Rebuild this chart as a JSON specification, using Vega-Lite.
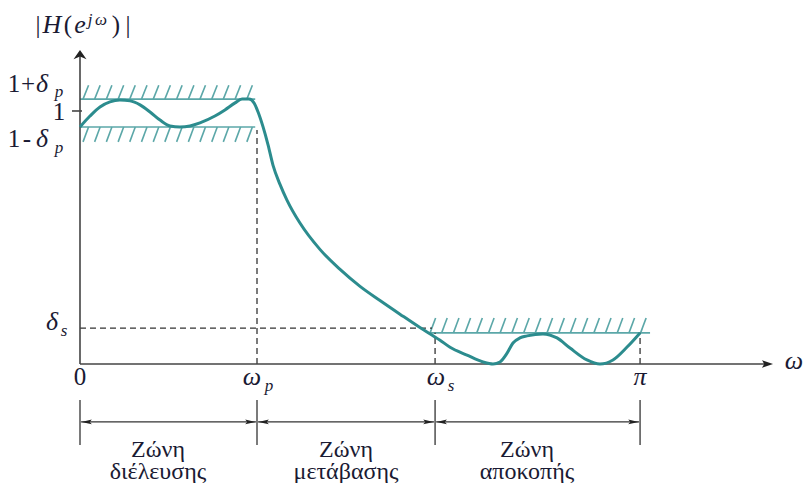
{
  "$schema": "https://vega.github.io/schema/vega-lite/v6.json",
  "width": 804,
  "height": 483,
  "padding": 0,
  "autosize": {"type": "none"},
  "background": "white",
  "config": {"view": {"stroke": null}},
  "datasets": {
    "curve": [
      {"x":0.000,"y":0.937},{"x":0.056,"y":0.980},{"x":0.112,"y":1.016},{"x":0.168,"y":1.036},
      {"x":0.224,"y":1.043},{"x":0.281,"y":1.040},{"x":0.337,"y":1.024},{"x":0.393,"y":0.996},
      {"x":0.449,"y":0.964},{"x":0.505,"y":0.941},{"x":0.561,"y":0.937},{"x":0.617,"y":0.941},
      {"x":0.673,"y":0.953},{"x":0.757,"y":0.980},{"x":0.813,"y":1.004},{"x":0.870,"y":1.032},
      {"x":0.909,"y":1.047},{"x":0.948,"y":1.047},{"x":0.976,"y":1.032},{"x":0.999,"y":0.996},
      {"x":1.027,"y":0.937},{"x":1.055,"y":0.866},{"x":1.083,"y":0.785},{"x":1.122,"y":0.710},
      {"x":1.161,"y":0.648},{"x":1.234,"y":0.557},{"x":1.346,"y":0.453},{"x":1.459,"y":0.374},
      {"x":1.571,"y":0.307},{"x":1.683,"y":0.251},{"x":1.795,"y":0.197},{"x":1.907,"y":0.144},
      {"x":2.020,"y":0.094},{"x":2.076,"y":0.066},{"x":2.171,"y":0.035},{"x":2.261,"y":0.008},
      {"x":2.317,"y":0.000},{"x":2.356,"y":0.008},{"x":2.396,"y":0.043},{"x":2.429,"y":0.083},
      {"x":2.468,"y":0.103},{"x":2.508,"y":0.111},{"x":2.597,"y":0.119},{"x":2.676,"y":0.103},
      {"x":2.749,"y":0.063},{"x":2.844,"y":0.016},{"x":2.917,"y":0.000},{"x":2.990,"y":0.016},
      {"x":3.069,"y":0.067},{"x":3.142,"y":0.123}
    ],
    "segs": [
      {"kind":"band","x":0,"y":1.047,"x2":0.983,"y2":1.047},
      {"kind":"band","x":0,"y":0.937,"x2":0.983,"y2":0.937},
      {"kind":"band","x":1.947,"y":0.123,"x2":3.198,"y2":0.123},
      {"kind":"band","x":0.017,"y":1.047,"x2":0.048,"y2":1.102},
      {"kind":"band","x":0.082,"y":1.047,"x2":0.113,"y2":1.102},
      {"kind":"band","x":0.148,"y":1.047,"x2":0.179,"y2":1.102},
      {"kind":"band","x":0.214,"y":1.047,"x2":0.245,"y2":1.102},
      {"kind":"band","x":0.279,"y":1.047,"x2":0.310,"y2":1.102},
      {"kind":"band","x":0.345,"y":1.047,"x2":0.376,"y2":1.102},
      {"kind":"band","x":0.411,"y":1.047,"x2":0.442,"y2":1.102},
      {"kind":"band","x":0.476,"y":1.047,"x2":0.507,"y2":1.102},
      {"kind":"band","x":0.542,"y":1.047,"x2":0.573,"y2":1.102},
      {"kind":"band","x":0.608,"y":1.047,"x2":0.639,"y2":1.102},
      {"kind":"band","x":0.673,"y":1.047,"x2":0.704,"y2":1.102},
      {"kind":"band","x":0.739,"y":1.047,"x2":0.770,"y2":1.102},
      {"kind":"band","x":0.804,"y":1.047,"x2":0.835,"y2":1.102},
      {"kind":"band","x":0.870,"y":1.047,"x2":0.901,"y2":1.102},
      {"kind":"band","x":0.936,"y":1.047,"x2":0.967,"y2":1.102},
      {"kind":"band","x":0.017,"y":0.878,"x2":0.048,"y2":0.937},
      {"kind":"band","x":0.082,"y":0.878,"x2":0.113,"y2":0.937},
      {"kind":"band","x":0.148,"y":0.878,"x2":0.179,"y2":0.937},
      {"kind":"band","x":0.214,"y":0.878,"x2":0.245,"y2":0.937},
      {"kind":"band","x":0.279,"y":0.878,"x2":0.310,"y2":0.937},
      {"kind":"band","x":0.345,"y":0.878,"x2":0.376,"y2":0.937},
      {"kind":"band","x":0.411,"y":0.878,"x2":0.442,"y2":0.937},
      {"kind":"band","x":0.476,"y":0.878,"x2":0.507,"y2":0.937},
      {"kind":"band","x":0.542,"y":0.878,"x2":0.573,"y2":0.937},
      {"kind":"band","x":0.608,"y":0.878,"x2":0.639,"y2":0.937},
      {"kind":"band","x":0.673,"y":0.878,"x2":0.704,"y2":0.937},
      {"kind":"band","x":0.739,"y":0.878,"x2":0.770,"y2":0.937},
      {"kind":"band","x":0.804,"y":0.878,"x2":0.835,"y2":0.937},
      {"kind":"band","x":0.870,"y":0.878,"x2":0.901,"y2":0.937},
      {"kind":"band","x":0.936,"y":0.878,"x2":0.967,"y2":0.937},
      {"kind":"band","x":1.964,"y":0.123,"x2":1.995,"y2":0.182},
      {"kind":"band","x":2.029,"y":0.123,"x2":2.060,"y2":0.182},
      {"kind":"band","x":2.095,"y":0.123,"x2":2.126,"y2":0.182},
      {"kind":"band","x":2.160,"y":0.123,"x2":2.191,"y2":0.182},
      {"kind":"band","x":2.226,"y":0.123,"x2":2.257,"y2":0.182},
      {"kind":"band","x":2.292,"y":0.123,"x2":2.323,"y2":0.182},
      {"kind":"band","x":2.357,"y":0.123,"x2":2.388,"y2":0.182},
      {"kind":"band","x":2.423,"y":0.123,"x2":2.454,"y2":0.182},
      {"kind":"band","x":2.489,"y":0.123,"x2":2.520,"y2":0.182},
      {"kind":"band","x":2.554,"y":0.123,"x2":2.585,"y2":0.182},
      {"kind":"band","x":2.620,"y":0.123,"x2":2.651,"y2":0.182},
      {"kind":"band","x":2.686,"y":0.123,"x2":2.717,"y2":0.182},
      {"kind":"band","x":2.751,"y":0.123,"x2":2.782,"y2":0.182},
      {"kind":"band","x":2.817,"y":0.123,"x2":2.848,"y2":0.182},
      {"kind":"band","x":2.883,"y":0.123,"x2":2.914,"y2":0.182},
      {"kind":"band","x":2.948,"y":0.123,"x2":2.979,"y2":0.182},
      {"kind":"band","x":3.014,"y":0.123,"x2":3.045,"y2":0.182},
      {"kind":"band","x":3.080,"y":0.123,"x2":3.111,"y2":0.182},
      {"kind":"band","x":3.145,"y":0.123,"x2":3.176,"y2":0.182},
      {"kind":"dash","x":0.993,"y":0,"x2":0.993,"y2":0.925},
      {"kind":"dash","x":0,"y":0.142,"x2":1.975,"y2":0.142},
      {"kind":"dash","x":1.992,"y":0,"x2":1.992,"y2":0.123},
      {"kind":"dash","x":3.142,"y":0,"x2":3.142,"y2":0.123},
      {"kind":"axis","x":0,"y":0,"x2":0,"y2":1.22},
      {"kind":"axis","x":0,"y":0,"x2":3.86,"y2":0},
      {"kind":"axis","x":-0.045,"y":1.0,"x2":0.011,"y2":1.0},
      {"kind":"zone","x":0,"y":-0.142,"x2":0,"y2":-0.320},
      {"kind":"zone","x":0.993,"y":-0.142,"x2":0.993,"y2":-0.320},
      {"kind":"zone","x":1.992,"y":-0.142,"x2":1.992,"y2":-0.320},
      {"kind":"zone","x":3.142,"y":-0.142,"x2":3.142,"y2":-0.320},
      {"kind":"zone","x":0.006,"y":-0.229,"x2":0.987,"y2":-0.229},
      {"kind":"zone","x":0.999,"y":-0.229,"x2":1.986,"y2":-0.229},
      {"kind":"zone","x":1.998,"y":-0.229,"x2":3.136,"y2":-0.229}
    ],
    "heads": [
      {"dir":"up","x":0,"y":1.215},
      {"dir":"right","x":3.857,"y":0},
      {"dir":"zl","x":0.037,"y":-0.229},
      {"dir":"zl","x":1.030,"y":-0.229},
      {"dir":"zl","x":2.029,"y":-0.229},
      {"dir":"zr","x":0.956,"y":-0.229},
      {"dir":"zr","x":1.955,"y":-0.229},
      {"dir":"zr","x":3.105,"y":-0.229}
    ],
    "labels": [
      {"role":"roman","t":"|","x":-0.2356,"y":1.3083},
      {"role":"roman","t":"(","x":-0.0673,"y":1.3083},
      {"role":"roman","t":")","x":0.2020,"y":1.3083},
      {"role":"roman","t":"|","x":0.2693,"y":1.3083},
      {"role":"roman","t":"1","x":-0.3703,"y":1.0751},
      {"role":"roman","t":"+","x":-0.2917,"y":1.0751},
      {"role":"roman","t":"1","x":-0.1178,"y":0.9644},
      {"role":"roman","t":"1","x":-0.3703,"y":0.8577},
      {"role":"roman","t":"-","x":-0.2973,"y":0.8577},
      {"role":"roman","t":"0","x":0,"y":-0.0830},
      {"role":"italic","t":"H","x":-0.1571,"y":1.3083},
      {"role":"italic","t":"e","x":0.0,"y":1.3083},
      {"role":"italic","t":"δ","x":-0.2132,"y":1.0751},
      {"role":"italic","t":"δ","x":-0.2132,"y":0.8577},
      {"role":"italic","t":"δ","x":-0.1571,"y":0.1344},
      {"role":"italic","t":"ω","x":0.9649,"y":-0.0830},
      {"role":"italic","t":"ω","x":1.9972,"y":-0.0830},
      {"role":"italic","t":"π","x":3.1417,"y":-0.0830},
      {"role":"italic","t":"ω","x":4.0056,"y":-0.0198},
      {"role":"sub","t":"j","x":0.0561,"y":1.3399},
      {"role":"sub","t":"ω","x":0.1178,"y":1.3399},
      {"role":"sub","t":"p","x":-0.1178,"y":1.0554},
      {"role":"sub","t":"p","x":-0.1178,"y":0.8340},
      {"role":"sub","t":"s","x":-0.0898,"y":0.1107},
      {"role":"sub","t":"p","x":1.0603,"y":-0.1067},
      {"role":"sub","t":"s","x":2.0814,"y":-0.1067}
    ],
    "zones": [
      {"line":1,"t":"Ζώνη","x":0.4376,"y":-0.3676},
      {"line":1,"t":"Ζώνη","x":1.4923,"y":-0.3676},
      {"line":1,"t":"Ζώνη","x":2.5077,"y":-0.3676},
      {"line":2,"t":"διέλευσης","x":0.4376,"y":-0.4545},
      {"line":2,"t":"μετάβασης","x":1.4923,"y":-0.4545},
      {"line":2,"t":"αποκοπής","x":2.5077,"y":-0.4545}
    ]
  },
  "encoding": {
    "x": {"field": "x", "type": "quantitative", "axis": null, "scale": {"domain": [-0.4488, 4.0617], "nice": false, "zero": false}},
    "y": {"field": "y", "type": "quantitative", "axis": null, "scale": {"domain": [-0.4704, 1.4387], "nice": false, "zero": false}}
  },
  "layer": [
    {
      "data": {"name": "segs"},
      "transform": [{"filter": "datum.kind == 'band'"}],
      "mark": {"type": "rule", "color": "#5ba7a8", "strokeWidth": 1.6},
      "encoding": {"x2": {"field": "x2"}, "y2": {"field": "y2"}}
    },
    {
      "data": {"name": "segs"},
      "transform": [{"filter": "datum.kind == 'dash'"}],
      "mark": {"type": "rule", "color": "#333333", "strokeWidth": 1.3, "strokeDash": [6, 4]},
      "encoding": {"x2": {"field": "x2"}, "y2": {"field": "y2"}}
    },
    {
      "data": {"name": "segs"},
      "transform": [{"filter": "datum.kind == 'axis'"}],
      "mark": {"type": "rule", "color": "#444444", "strokeWidth": 1.6},
      "encoding": {"x2": {"field": "x2"}, "y2": {"field": "y2"}}
    },
    {
      "data": {"name": "segs"},
      "transform": [{"filter": "datum.kind == 'zone'"}],
      "mark": {"type": "rule", "color": "#333333", "strokeWidth": 1.3},
      "encoding": {"x2": {"field": "x2"}, "y2": {"field": "y2"}}
    },
    {
      "data": {"name": "curve"},
      "mark": {"type": "line", "color": "#2c8c8e", "strokeWidth": 3, "interpolate": "monotone"},
      "encoding": {}
    },
    {
      "data": {"name": "heads"},
      "transform": [{"filter": "datum.dir == 'up'"}],
      "mark": {"type": "point", "shape": "M0,-1L1,0.4L0,0L-1,0.4Z", "size": 169, "filled": true, "color": "#222222", "opacity": 1, "strokeWidth": 0}
    },
    {
      "data": {"name": "heads"},
      "transform": [{"filter": "datum.dir == 'right'"}],
      "mark": {"type": "point", "shape": "M1,0L-1,0.7L-0.6,0L-1,-0.7Z", "size": 121, "filled": true, "color": "#222222", "opacity": 1, "strokeWidth": 0}
    },
    {
      "data": {"name": "heads"},
      "transform": [{"filter": "datum.dir == 'zl'"}],
      "mark": {"type": "point", "shape": "M-1,0L1,0.45L0.6,0L1,-0.45Z", "size": 110, "filled": true, "color": "#222222", "opacity": 1, "strokeWidth": 0}
    },
    {
      "data": {"name": "heads"},
      "transform": [{"filter": "datum.dir == 'zr'"}],
      "mark": {"type": "point", "shape": "M1,0L-1,0.45L-0.6,0L-1,-0.45Z", "size": 110, "filled": true, "color": "#222222", "opacity": 1, "strokeWidth": 0}
    },
    {
      "data": {"name": "labels"},
      "transform": [{"filter": "datum.role == 'roman'"}],
      "mark": {"type": "text", "font": "Liberation Serif", "fontSize": 25, "align": "center", "baseline": "alphabetic", "color": "#1a1a33"},
      "encoding": {"text": {"field": "t"}}
    },
    {
      "data": {"name": "labels"},
      "transform": [{"filter": "datum.role == 'italic'"}],
      "mark": {"type": "text", "font": "Liberation Serif", "fontStyle": "italic", "fontSize": 26, "align": "center", "baseline": "alphabetic", "color": "#1a1a33"},
      "encoding": {"text": {"field": "t"}}
    },
    {
      "data": {"name": "labels"},
      "transform": [{"filter": "datum.role == 'sub'"}],
      "mark": {"type": "text", "font": "Liberation Serif", "fontStyle": "italic", "fontSize": 17, "align": "center", "baseline": "alphabetic", "color": "#1a1a33"},
      "encoding": {"text": {"field": "t"}}
    },
    {
      "data": {"name": "zones"},
      "mark": {"type": "text", "font": "Liberation Serif", "fontSize": 24, "align": "center", "baseline": "alphabetic", "color": "#1a1a33"},
      "encoding": {"text": {"field": "t"}}
    }
  ]
}
